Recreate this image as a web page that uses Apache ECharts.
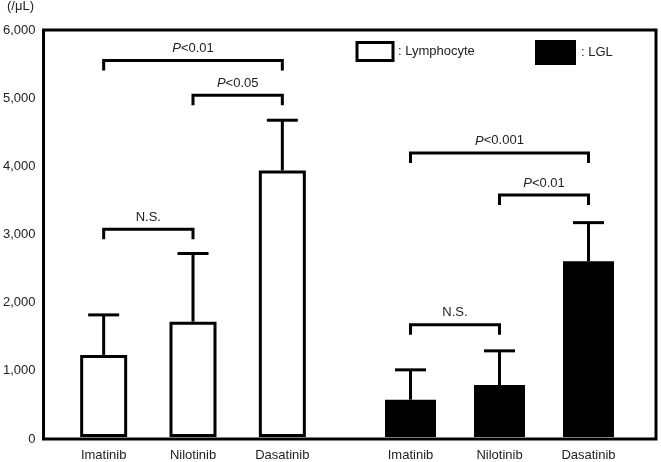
<!DOCTYPE html>
<html><head><meta charset="utf-8">
<script src="https://cdn.jsdelivr.net/npm/echarts@6/dist/echarts.min.js"></script>
<style>html,body{margin:0;padding:0;background:#fff}#c{width:661px;height:462px}</style>
</head><body><div id="c"></div>
<script>
const categories = ['Imatinib', 'Nilotinib', 'Dasatinib'];
const lymphocyteMean = [1210, 1700, 3930];
const lymphocyteError = [590, 1005, 740];
const lglMean = [550, 765, 2590];
const lglError = [440, 505, 570];
const yTicks = [0, 1000, 2000, 3000, 4000, 5000, 6000];
const unitLabel = '(/μL)';
// [from index, to index, bracket level, label]
const lymphocyteBrackets = [[0, 1, 3062, 'N.S.'], [1, 2, 5037, 'P<0.05'], [0, 2, 5551, 'P<0.01']];
const lglBrackets = [[0, 1, 1654, 'N.S.'], [1, 2, 3566, 'P<0.01'], [0, 2, 4188, 'P<0.001']];

const FONT = "'Liberation Sans', Arial, sans-serif";
const TXT = '#222';

function errRender(params, api) {
  const ci = api.value(0), mean = api.value(1), err = api.value(2);
  const p0 = api.coord([ci, mean]);
  const p1 = api.coord([ci, mean + err]);
  const half = 15.5;
  return {
    type: 'group', children: [
      { type: 'line', shape: { x1: p0[0], y1: p0[1], x2: p1[0], y2: p1[1] }, style: { stroke: '#000', lineWidth: 3 } },
      { type: 'line', shape: { x1: p1[0] - half, y1: p1[1], x2: p1[0] + half, y2: p1[1] }, style: { stroke: '#000', lineWidth: 3 } }
    ]
  };
}

function makeBracketRender(list) {
  return function (params, api) {
    const b = list[params.dataIndex];
    const pa = api.coord([b[0], b[2]]);
    const pb = api.coord([b[1], b[2]]);
    const y = pa[1], leg = 10;
    const label = b[3];
    const rich = { i: { fontStyle: 'italic', fontSize: 13, fontFamily: FONT, fill: TXT } };
    const text = label.charAt(0) === 'P' ? '{i|P}' + label.slice(1) : label;
    return {
      type: 'group', children: [
        { type: 'polyline', shape: { points: [[pa[0], y + leg], [pa[0], y], [pb[0], y], [pb[0], y + leg]] },
          style: { stroke: '#000', lineWidth: 3, fill: null, lineJoin: 'miter' } },
        { type: 'text', style: { text: text, rich: rich, x: (pa[0] + pb[0]) / 2, y: y - 12, align: 'center', verticalAlign: 'middle',
          fontSize: 13, fontFamily: FONT, fill: TXT } }
      ]
    };
  };
}

const chart = echarts.init(document.getElementById('c'), null, { renderer: 'canvas' });
const option = {
  animation: false,
  backgroundColor: '#fff',
  textStyle: { fontFamily: FONT },
  graphic: [{ type: 'text', left: 7, top: 0, style: { text: unitLabel, fontSize: 13, fontFamily: FONT, fill: TXT } }],
  legend: [
    { data: [{ name: 'Lymphocyte', icon: 'rect', itemStyle: { color: '#fff', borderColor: '#000', borderWidth: 3 } }],
      left: 355.5, top: 41, padding: 0, itemWidth: 36, itemHeight: 18, selectedMode: false,
      formatter: ': {name}', textStyle: { fontSize: 13, color: TXT, fontFamily: FONT } },
    { data: [{ name: 'LGL', icon: 'rect', itemStyle: { color: '#000', borderWidth: 0 } }],
      left: 535, top: 40, padding: 0, itemWidth: 41, itemHeight: 25, selectedMode: false,
      formatter: ': {name}', textStyle: { fontSize: 13, color: TXT, fontFamily: FONT } }
  ],
  grid: [
    { left: 41, right: 5, top: 30, bottom: 23, show: true, borderColor: '#000', borderWidth: 3, backgroundColor: 'transparent' },
    { left: 59, width: 268, top: 30, bottom: 23 },
    { left: 366, width: 267, top: 30, bottom: 23 }
  ],
  xAxis: [
    { gridIndex: 0, type: 'value', min: 0, max: 1, show: false },
    { gridIndex: 1, type: 'category', data: categories, axisLine: { show: false }, axisTick: { show: false },
      axisLabel: { margin: 12, fontSize: 13, color: TXT, fontFamily: FONT } },
    { gridIndex: 2, type: 'category', data: categories, axisLine: { show: false }, axisTick: { show: false },
      axisLabel: { margin: 12, fontSize: 13, color: TXT, fontFamily: FONT } }
  ],
  yAxis: [
    { gridIndex: 0, type: 'value', min: yTicks[0], max: yTicks[yTicks.length - 1], interval: yTicks[1] - yTicks[0],
      axisLine: { show: false }, axisTick: { show: false }, splitLine: { show: false },
      axisLabel: { margin: 8, fontSize: 13, color: TXT, fontFamily: FONT, formatter: v => v.toLocaleString('en-US') } },
    { gridIndex: 1, type: 'value', min: 0, max: 6000, show: false, splitLine: { show: false } },
    { gridIndex: 2, type: 'value', min: 0, max: 6000, show: false, splitLine: { show: false } }
  ],
  series: [
    { name: 'Lymphocyte', type: 'bar', xAxisIndex: 1, yAxisIndex: 1, data: lymphocyteMean, barWidth: 47,
      itemStyle: { color: '#fff', borderColor: '#000', borderWidth: 3 }, z: 2 },
    { name: 'LGL', type: 'bar', xAxisIndex: 2, yAxisIndex: 2, data: lglMean, barWidth: 51,
      itemStyle: { color: '#000' }, z: 2 },
    { type: 'custom', xAxisIndex: 1, yAxisIndex: 1, renderItem: errRender, z: 3,
      data: categories.map((c, i) => [i, lymphocyteMean[i], lymphocyteError[i]]) },
    { type: 'custom', xAxisIndex: 2, yAxisIndex: 2, renderItem: errRender, z: 3,
      data: categories.map((c, i) => [i, lglMean[i], lglError[i]]) },
    { type: 'custom', xAxisIndex: 1, yAxisIndex: 1, renderItem: makeBracketRender(lymphocyteBrackets), z: 4,
      data: lymphocyteBrackets.map(b => [b[0], b[2]]) },
    { type: 'custom', xAxisIndex: 2, yAxisIndex: 2, renderItem: makeBracketRender(lglBrackets), z: 4,
      data: lglBrackets.map(b => [b[0], b[2]]) }
  ]
};
chart.setOption(option);
</script>
</body></html>
